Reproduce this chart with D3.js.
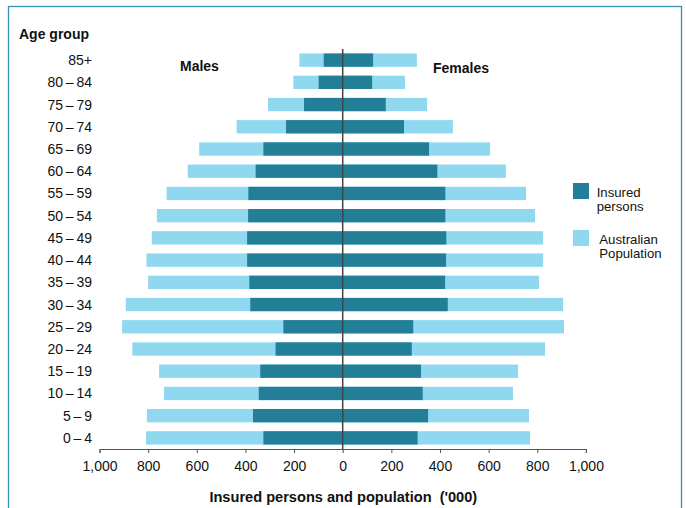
<!DOCTYPE html>
<html>
<head>
<meta charset="utf-8">
<script src="https://cdn.jsdelivr.net/npm/d3@7"></script>
<style>
  html, body { margin: 0; padding: 0; background: #fff; }
  svg { display: block; font-family: "Liberation Sans", Arial, sans-serif; }
</style>
</head>
<body>
<svg id="chart" width="686" height="508"></svg>
<script>
const ageGroups = ["85+", "80\u2009\u2013\u200984", "75\u2009\u2013\u200979", "70\u2009\u2013\u200974", "65\u2009\u2013\u200969", "60\u2009\u2013\u200964", "55\u2009\u2013\u200959", "50\u2009\u2013\u200954", "45\u2009\u2013\u200949", "40\u2009\u2013\u200944", "35\u2009\u2013\u200939", "30\u2009\u2013\u200934", "25\u2009\u2013\u200929", "20\u2009\u2013\u200924", "15\u2009\u2013\u200919", "10\u2009\u2013\u200914", "5\u2009\u2013\u20099", "0\u2009\u2013\u20094"];
const malePopulation = [178, 203, 307, 436, 590, 637, 724, 764, 785, 807, 800, 892, 907, 865, 755, 735, 805, 809];
const maleInsured    = [78, 99, 159, 233, 326, 358, 388, 389, 393, 393, 384, 380, 244, 276, 339, 345, 369, 326];
const femalePopulation = [305, 256, 347, 453, 606, 671, 754, 791, 824, 824, 807, 906, 910, 832, 721, 700, 766, 770];
const femaleInsured    = [125, 121, 177, 252, 355, 389, 422, 422, 426, 425, 421, 432, 290, 284, 322, 329, 351, 308];
const xTicks = [-1000, -800, -600, -400, -200, 0, 200, 400, 600, 800, 1000];
const legendLabels = [["Insured", "persons"], ["Australian", "Population"]];

const darkColor = "#237f98";
const lightColor = "#8fd8f0";

const svg = d3.select("#chart");

// frame
svg.append("rect")
  .attr("x", 8.5).attr("y", 6.5)
  .attr("width", 673).attr("height", 520)
  .attr("fill", "none")
  .attr("stroke", "#3a8fb0")
  .attr("stroke-width", 1.3);

const x = d3.scaleLinear().domain([-1000, 1000]).range([99.5, 585.9]);
const y = d3.scaleBand().domain(ageGroups).range([49, 449]).paddingInner(0.4).paddingOuter(0.2);

const rows = ageGroups.map((g, i) => ({
  g, mp: malePopulation[i], mi: maleInsured[i], fp: femalePopulation[i], fi: femaleInsured[i]
}));

const bars = svg.append("g");
// light bars
bars.selectAll(".mp").data(rows).join("rect")
  .attr("x", d => x(-d.mp)).attr("y", d => y(d.g))
  .attr("width", d => x(0) - x(-d.mp)).attr("height", y.bandwidth())
  .attr("fill", lightColor);
bars.selectAll(".fp").data(rows).join("rect")
  .attr("x", x(0)).attr("y", d => y(d.g))
  .attr("width", d => x(d.fp) - x(0)).attr("height", y.bandwidth())
  .attr("fill", lightColor);
// dark bars
bars.selectAll(".mi").data(rows).join("rect")
  .attr("x", d => x(-d.mi)).attr("y", d => y(d.g))
  .attr("width", d => x(0) - x(-d.mi)).attr("height", y.bandwidth())
  .attr("fill", darkColor);
bars.selectAll(".fi").data(rows).join("rect")
  .attr("x", x(0)).attr("y", d => y(d.g))
  .attr("width", d => x(d.fi) - x(0)).attr("height", y.bandwidth())
  .attr("fill", darkColor);

// center line
svg.append("line")
  .attr("x1", x(0)).attr("x2", x(0))
  .attr("y1", 49).attr("y2", 449)
  .attr("stroke", "#444").attr("stroke-width", 1.5);

// x axis
const xAxis = d3.axisBottom(x)
  .tickValues(xTicks)
  .tickSize(4)
  .tickSizeOuter(4)
  .tickFormat(d => d3.format(",")(Math.abs(d)));
const gx = svg.append("g").attr("transform", "translate(0,449)").call(xAxis);
gx.select(".domain").attr("stroke", "#555");
gx.selectAll(".tick line").attr("stroke", "#555");
gx.selectAll(".tick text")
  .attr("font-size", 14).attr("fill", "#111")
  .attr("font-family", "Liberation Sans, Arial, sans-serif")
  .attr("y", 12);

// y labels
svg.append("g").selectAll("text").data(ageGroups).join("text")
  .attr("x", 92).attr("y", d => y(d) + y.bandwidth() / 2)
  .attr("dy", "0.36em")
  .attr("text-anchor", "end")
  .attr("font-size", 14).attr("fill", "#111")
  .text(d => d);

// titles
svg.append("text").attr("x", 19).attr("y", 39)
  .attr("font-size", 14).attr("font-weight", "bold").attr("fill", "#111")
  .text("Age group");
svg.append("text").attr("x", 180).attr("y", 71)
  .attr("font-size", 14).attr("font-weight", "bold").attr("fill", "#111")
  .text("Males");
svg.append("text").attr("x", 433).attr("y", 73)
  .attr("font-size", 14).attr("font-weight", "bold").attr("fill", "#111")
  .text("Females");
svg.append("text").attr("x", 343.3).attr("y", 501.5)
  .attr("text-anchor", "middle")
  .attr("font-size", 14.6).attr("font-weight", "bold").attr("fill", "#111")
  .attr("xml:space", "preserve")
  .style("white-space", "pre")
  .text("Insured persons and population  ('000)");

// legend
const legend = [
  { color: darkColor, lines: legendLabels[0], y: 183, tx: 596.7 },
  { color: lightColor, lines: legendLabels[1], y: 230, tx: 599.3 }
];
const lg = svg.append("g");
legend.forEach(l => {
  lg.append("rect").attr("x", 573).attr("y", l.y).attr("width", 16).attr("height", 16).attr("fill", l.color);
  l.lines.forEach((s, i) => {
    lg.append("text").attr("x", l.tx).attr("y", l.y + 13.5 + i * 14.8)
      .attr("font-size", 13.2).attr("fill", "#111").text(s);
  });
});
</script>
</body>
</html>
